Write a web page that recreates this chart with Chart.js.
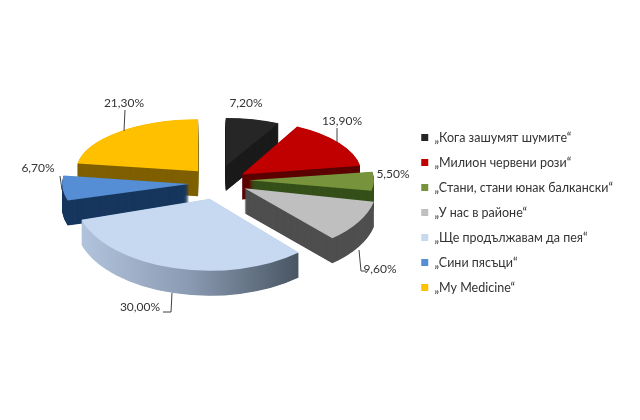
<!DOCTYPE html>
<html>
<head>
<meta charset="utf-8">
<style>
  html, body { margin: 0; padding: 0; background: #fff; }
  canvas { display: block; }
</style>
<script src="https://cdn.jsdelivr.net/npm/chart.js@4"></script>
</head>
<body>
<canvas id="songChart" width="640" height="420"></canvas>
<script>
// Chart data
const songs = ['„Кога зашумят шумите“', '„Милион червени рози“', '„Стани, стани юнак балкански“', '„У нас в районе“', '„Ще продължавам да пея“', '„Сини пясъци“', '„My Medicine“'];
const shares = [7.2, 13.9, 5.5, 9.6, 30.0, 6.7, 21.3];

// Slice colours
const topColors = ['#262626', '#c00000', '#77933c', '#bfbfbf', '#c6d9f1', '#558ed5', '#ffc000'];
const wallColors = ['#1a1a1a', '#5c0000', '#36501a', '#4f4f4f', null, '#17375e', '#7f6000'];

// 3D look of the pie: perspective makes every slice a slightly different ellipse
const pieCenter = { x: 216, y: 180 };
const explode = [33, 33, 33, 33, 42, 29, 26];
const nudgeX = [2, -1, 0, 0, 5, 2, -1];
const nudgeY = [0, 3, 0, 1, 1, 3, 0];
const sliceRx = [114, 120, 125, 132, 134, 127, 122];
const sliceRy = [48, 54, 52, 67, 72, 57, 52];
const depth = 25;

// Data label text position and leader line
const labelSpots = [
    { x: 246, y: 103, line: [] },
    { x: 342, y: 121, line: [[337, 128], [337, 142]] },
    { x: 393, y: 174, line: [] },
    { x: 380, y: 269, line: [[359, 250], [361, 271], [366, 271]] },
    { x: 140, y: 307, line: [[172, 293], [171, 312], [163, 312]] },
    { x: 38, y: 168, line: [[60, 176], [62, 190]] },
    { x: 124, y: 103, line: [[125, 110], [124, 131]] }
];

function percentText(v) {
    return v.toFixed(2).replace('.', ',') + '%';
}

function midAngle(el) {
    return (el.startAngle + el.endAngle) / 2 + Math.PI / 2;
}

// Draws the arcs squashed and extruded, Chart.js has no 3D pie
const pie3d = {
    id: 'pie3d',
    beforeDatasetDraw(chart, args) {
        const ctx = chart.ctx;
        const arcs = args.meta.data;
        const order = arcs.map((el, i) => i).sort((a, b) => {
            return Math.cos(midAngle(arcs[b])) - Math.cos(midAngle(arcs[a]));
        });

        order.forEach(i => {
            const el = arcs[i];
            const mid = midAngle(el);
            const apexX = pieCenter.x + explode[i] * Math.sin(mid) + nudgeX[i];
            const apexY = pieCenter.y - explode[i] * Math.cos(mid) * 0.44 + nudgeY[i];
            const R = el.outerRadius;

            const paint = (dy, color) => {
                const face = Object.create(el);
                face.options = Object.assign({}, el.options, { backgroundColor: color, borderWidth: 0 });
                ctx.save();
                ctx.translate(apexX, apexY + dy);
                ctx.scale(sliceRx[i] / R, sliceRy[i] / R);
                ctx.translate(-el.x, -el.y);
                face.draw(ctx);
                ctx.restore();
            };

            let wall = wallColors[i];
            if (!wall) {
                wall = ctx.createLinearGradient(el.x - R, 0, el.x + R * 0.7, 0);
                wall.addColorStop(0, '#b4c6df');
                wall.addColorStop(0.5, '#8a9ab2');
                wall.addColorStop(1, '#46525f');
            }
            for (let d = depth; d > 0; d -= 0.5) {
                paint(d, wall);
            }
            paint(0, topColors[i]);
        });
        return false;
    },
    afterDatasetsDraw(chart) {
        const ctx = chart.ctx;
        ctx.save();
        ctx.font = '12px Lato, "Noto Sans", sans-serif';
        ctx.fillStyle = '#333333';
        ctx.textAlign = 'center';
        ctx.textBaseline = 'middle';
        ctx.strokeStyle = '#404040';
        ctx.lineWidth = 1;
        shares.forEach((v, i) => {
            const spot = labelSpots[i];
            ctx.fillText(percentText(v), spot.x, spot.y);
            if (spot.line.length) {
                ctx.beginPath();
                spot.line.forEach((p, k) => {
                    if (k === 0) ctx.moveTo(p[0], p[1]);
                    else ctx.lineTo(p[0], p[1]);
                });
                ctx.stroke();
            }
        });
        ctx.restore();
    }
};

new Chart(document.getElementById('songChart'), {
    type: 'pie',
    data: {
        labels: songs,
        datasets: [{
            data: shares,
            backgroundColor: topColors,
            borderWidth: 0
        }]
    },
    plugins: [pie3d],
    options: {
        responsive: false,
        animation: false,
        layout: { padding: { top: 5, right: 17 } },
        plugins: {
            tooltip: { enabled: false },
            legend: {
                position: 'right',
                labels: {
                    boxWidth: 7,
                    boxHeight: 7,
                    padding: 12.5,
                    color: '#333333',
                    font: { family: 'Lato, "Noto Sans", sans-serif', size: 12.5 }
                }
            }
        }
    }
});
</script>
</body>
</html>
